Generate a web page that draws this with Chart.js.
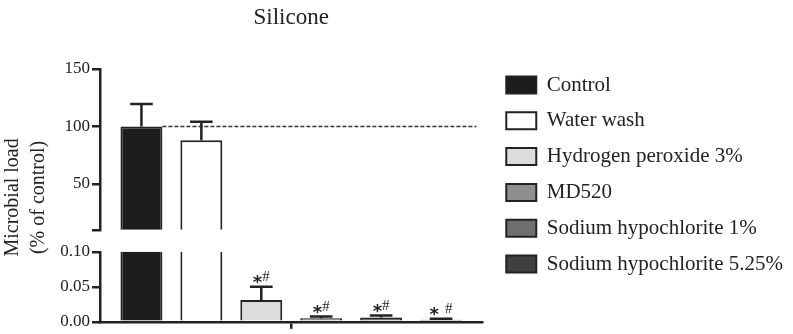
<!DOCTYPE html>
<html>
<head>
<meta charset="utf-8">
<script src="https://cdn.jsdelivr.net/npm/chart.js@4/dist/chart.umd.min.js"></script>
<style>
  html, body { margin: 0; padding: 0; background: #fff; }
  #wrap { width: 793px; height: 334px; position: relative; }
</style>
</head>
<body>
<div id="wrap"><canvas id="siliconeChart"></canvas></div>
<script>
// values
const treatments = ["Control", "Water wash", "Hydrogen peroxide 3%", "MD520", "Sodium hypochlorite 1%", "Sodium hypochlorite 5.25%"];
const loads = [100, 88, 0.031, 0.005, 0.006, 0.003];
const loadErrors = [19.5, 16, 0.019, 0.0025, 0.003, 0.0015];
const significance = ["", "", "*#", "*#", "*#", "* #"];
const topTicks = [10, 50, 100, 150];
const topTickLabels = ["", "50", "100", "150"];
const bottomTicks = [0, 0.05, 0.1];
const bottomTickLabels = ["0.00", "0.05", "0.10"];
const controlLevel = 100;

const fills = ["#1c1c1c", "#ffffff", "#dcdcdc", "#8e8e8e", "#6f6f6f", "#404040"];
const ink = "#222";
const serif = "'Liberation Serif', 'Times New Roman', serif";

// every treatment drawn on both axis segments, sharing one slot (stack name)
const datasets = [];
["yTop", "yBottom"].forEach(function (axis) {
    treatments.forEach(function (name, i) {
        datasets.push({
            label: name,
            data: [loads[i]],
            yAxisID: axis,
            stack: "t" + i,
            backgroundColor: fills[i],
            borderColor: ink,
            borderWidth: 2,
            categoryPercentage: 0.94,
            barPercentage: 0.7,
        });
    });
});

// clip each bar to its own axis segment
const segmentClip = {
    id: "segmentClip",
    beforeDatasetDraw(chart, args) {
        const s = chart.scales[args.meta.yAxisID];
        const a = chart.chartArea;
        chart.ctx.save();
        chart.ctx.beginPath();
        chart.ctx.rect(a.left, s.top, a.right - a.left, s.bottom - s.top);
        chart.ctx.clip();
    },
    afterDatasetDraw(chart) {
        chart.ctx.restore();
    },
};

const extras = {
    id: "extras",
    afterDatasetsDraw(chart) {
        const ctx = chart.ctx;
        const top = chart.scales.yTop;
        const bot = chart.scales.yBottom;

        // dashed control line
        const ctrl = chart.getDatasetMeta(0).data[0];
        const yc = top.getPixelForValue(controlLevel);
        ctx.save();
        ctx.setLineDash([4, 2]);
        ctx.lineWidth = 1.5;
        ctx.strokeStyle = "#333";
        ctx.beginPath();
        ctx.moveTo(ctrl.x + ctrl.width / 2, yc);
        ctx.lineTo(chart.chartArea.right - 6, yc);
        ctx.stroke();
        ctx.restore();

        treatments.forEach(function (name, i) {
            const bar = chart.getDatasetMeta(i).data[0];
            const scale = loads[i] >= top.min ? top : bot;
            const y0 = scale.getPixelForValue(loads[i]);
            const y1 = scale.getPixelForValue(loads[i] + loadErrors[i]);
            const half = bar.width * 0.27;

            ctx.save();
            ctx.strokeStyle = ink;
            ctx.lineWidth = 2.5;
            ctx.beginPath();
            ctx.moveTo(bar.x, y0);
            ctx.lineTo(bar.x, y1);
            ctx.moveTo(bar.x - half, y1);
            ctx.lineTo(bar.x + half, y1);
            ctx.stroke();

            // significance marks
            const marks = significance[i];
            if (marks) {
                const starFont = "bold 18px 'DejaVu Sans'";
                const hashFont = "15px " + serif;
                let total = 0;
                const parts = marks.split("").map(function (c) {
                    let w = 6;
                    if (c === "*") { ctx.font = starFont; w = ctx.measureText(c).width; }
                    else if (c === "#") { ctx.font = hashFont; w = ctx.measureText(c).width; }
                    total += w;
                    return { c: c, w: w };
                });
                let x = bar.x - total / 2;
                ctx.fillStyle = ink;
                ctx.textAlign = "left";
                ctx.textBaseline = "alphabetic";
                parts.forEach(function (p) {
                    if (p.c === "*") {
                        ctx.font = starFont;
                        ctx.fillText("*", x, y1 + 1);
                    } else if (p.c === "#") {
                        ctx.font = hashFont;
                        ctx.fillText("#", x, y1 - 6);
                    }
                    x += p.w;
                });
            }
            ctx.restore();
        });
    },
    afterDraw(chart) {
        // y axis title spans both segments
        const ctx = chart.ctx;
        const cy = (chart.chartArea.top + chart.chartArea.bottom) / 2 + 2;
        ctx.save();
        ctx.fillStyle = ink;
        ctx.font = "20px " + serif;
        ctx.textAlign = "center";
        ctx.textBaseline = "middle";
        [["Microbial load", 13], ["(% of control)", 39]].forEach(function (line) {
            ctx.save();
            ctx.translate(line[1], cy);
            ctx.rotate(-Math.PI / 2);
            ctx.fillText(line[0], 0, 0);
            ctx.restore();
        });
        ctx.restore();
    },
};

const tickFont = { family: serif, size: 17 };
const axisGrid = { drawOnChartArea: false, tickLength: 8, lineWidth: 2.5, color: ink };
const axisBorder = { width: 2.5, color: ink };

new Chart(document.getElementById("siliconeChart").getContext("2d"), {
    type: "bar",
    data: {
        labels: [""],
        datasets: datasets,
    },
    options: {
        responsive: true,
        maintainAspectRatio: false,
        animation: false,
        scales: {
            x: {
                grid: { drawOnChartArea: false, offset: false, tickLength: 7, lineWidth: 2.5, color: ink },
                border: axisBorder,
                ticks: { display: false },
                afterFit: function (s) { s.height = 12; },
            },
            yTop: {
                type: "linear",
                position: "left",
                stack: "load",
                stackWeight: 161,
                weight: 3,
                min: 10,
                max: 150,
                afterBuildTicks: function (s) { s.ticks = topTicks.map(function (v) { return { value: v }; }); },
                afterFit: function (s) { s.width = 100; },
                ticks: {
                    autoSkip: false,
                    padding: 2,
                    color: ink,
                    font: tickFont,
                    callback: function (v, i) { return topTickLabels[i]; },
                },
                grid: axisGrid,
                border: axisBorder,
            },
            yGap: {
                type: "linear",
                position: "left",
                stack: "load",
                stackWeight: 22,
                weight: 2,
                ticks: { display: false },
                grid: { display: false },
                border: { display: false },
                afterFit: function (s) { s.width = 100; },
            },
            yBottom: {
                type: "linear",
                position: "left",
                stack: "load",
                stackWeight: 70,
                weight: 1,
                min: 0,
                max: 0.1,
                afterBuildTicks: function (s) { s.ticks = bottomTicks.map(function (v) { return { value: v }; }); },
                afterFit: function (s) { s.width = 100; },
                ticks: {
                    autoSkip: false,
                    padding: 2,
                    color: ink,
                    font: tickFont,
                    callback: function (v, i) { return bottomTickLabels[i]; },
                },
                grid: axisGrid,
                border: axisBorder,
            },
            // empty strip between plot and legend
            yRightGap: {
                type: "linear",
                position: "right",
                ticks: { display: false },
                grid: { display: false },
                border: { display: false },
                afterFit: function (s) { s.width = 9; },
            },
        },
        plugins: {
            title: {
                display: true,
                text: "Silicone",
                fullSize: false,
                color: ink,
                font: { family: serif, size: 23, weight: "normal" },
                padding: { top: 4, bottom: 37.4 },
            },
            legend: {
                position: "right",
                maxWidth: 330,
                title: { display: true, text: "", font: { size: 10, lineHeight: 1.5 }, padding: 0 },
                labels: {
                    boxWidth: 30,
                    boxHeight: 17,
                    padding: 14.8,
                    color: ink,
                    font: { family: serif, size: 21 },
                    filter: function (item) { return item.datasetIndex < treatments.length; },
                },
            },
            tooltip: { enabled: false },
        },
    },
    plugins: [segmentClip, extras],
});
</script>
</body>
</html>
